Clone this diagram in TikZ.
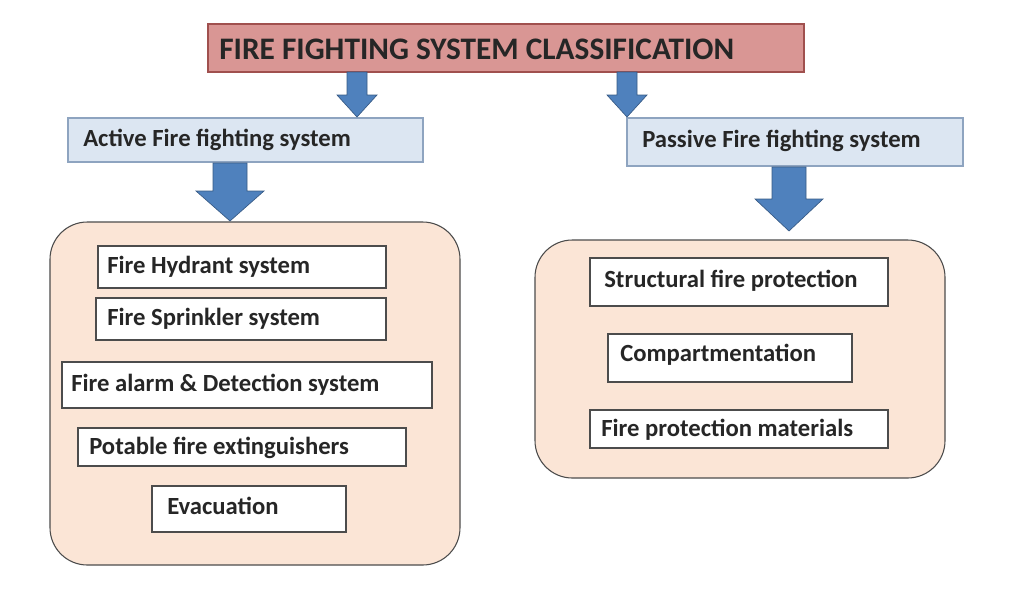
\documentclass[tikz,border=0pt]{standalone}
\usepackage{fontspec}
\setmainfont{Carlito}
\usetikzlibrary{shapes.arrows}
\definecolor{titlefill}{HTML}{D99694}
\definecolor{titledraw}{HTML}{A0504E}
\definecolor{bluefill}{HTML}{DCE6F2}
\definecolor{bluedraw}{HTML}{8EA4C0}
\definecolor{peach}{HTML}{FBE5D6}
\definecolor{arrowblue}{HTML}{4F81BD}
\begin{document}
\begin{tikzpicture}[x=0.75pt,y=-0.75pt,
  title/.style={draw=titledraw,fill=titlefill,line width=1pt},
  cat/.style={draw=bluedraw,fill=bluefill,line width=0.8pt},
  cont/.style={draw=black!70,fill=peach,rounded corners=28pt,line width=0.8pt},
  item/.style={draw=black!70,fill=white,line width=0.8pt},
  lbl/.style={anchor=west,inner sep=0pt,font=\bfseries\fontsize{18.5}{20}\selectfont,text=black!85},
  barrow/.style={fill=arrowblue,draw=arrowblue!70!black,line width=0.5pt}]
\useasboundingbox (0,0) rectangle (1024,590);
% title
\draw[title] (208,24) rectangle (804,72);
\node[anchor=west,inner sep=0pt,font=\bfseries\fontsize{23.5}{26}\selectfont,text=black!85] (t) at (219,49) {FIRE FIGHTING SYSTEM CLASSIFICATION};
% category boxes
\draw[cat] (68,118) rectangle (423,162);
\node[lbl] (act) at (83,140) {Active Fire fighting system};
\draw[cat] (627,118) rectangle (963,166);
\node[lbl] (pas) at (642,141) {Passive Fire fighting system};
% block arrows
\newcommand{\blockarrow}[6]{% cx, top, bottom, shaft half, head half, head len
  \draw[barrow] (#1-#4,#2) -- (#1+#4,#2) -- (#1+#4,#3-#6) -- (#1+#5,#3-#6) -- (#1,#3) -- (#1-#5,#3-#6) -- (#1-#4,#3-#6) -- cycle;}
\blockarrow{357}{72}{117}{10}{20}{22}
\blockarrow{627}{72}{117}{10}{20}{22}
\blockarrow{230}{163}{221}{17}{34}{30}
\blockarrow{789}{167}{231}{17}{34}{32}
% containers
\draw[cont] (50,222) rectangle (460,565);
\draw[cont] (535,240) rectangle (945,478);
% left items
\draw[item] (98,246) rectangle (386,288); \node[lbl] (a1) at (107,267) {Fire Hydrant system};
\draw[item] (96,298) rectangle (386,340); \node[lbl] (a2) at (107,319) {Fire Sprinkler system};
\draw[item] (62,362) rectangle (432,408); \node[lbl] (a3) at (71,385) {Fire alarm \& Detection system};
\draw[item] (78,428) rectangle (406,466); \node[lbl] (a4) at (89,448) {Potable fire extinguishers};
\draw[item] (152,486) rectangle (346,532); \node[lbl] (a5) at (167,506) {Evacuation};
% right items
\draw[item] (590,258) rectangle (888,306); \node[lbl] (b1) at (604,281) {Structural fire protection};
\draw[item] (608,334) rectangle (852,382); \node[lbl] (b2) at (620,355) {Compartmentation};
\draw[item] (590,410) rectangle (888,448); \node[lbl] (b3) at (601,430) {Fire protection materials};
\end{tikzpicture}
\end{document}
